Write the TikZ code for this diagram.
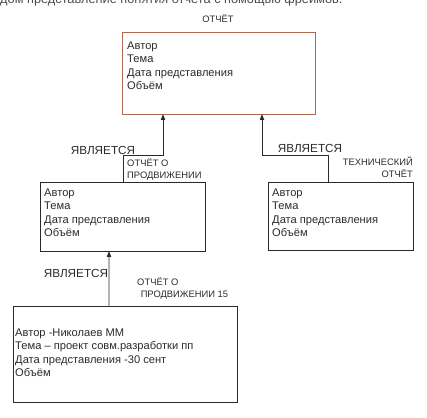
\documentclass[tikz,border=0pt]{standalone}
\usepackage{fontspec}
\setmainfont{Liberation Sans}
\usetikzlibrary{arrows.meta, calc}

\definecolor{framered}{HTML}{B0684E}
\definecolor{inkgrey}{HTML}{2A2A2A}

\begin{document}
\begin{tikzpicture}[x=0.03cm, y=-0.03cm, >={Triangle[length=5pt, width=3.6pt]},
  box/.style={draw=inkgrey, line width=0.8pt, inner sep=0pt, outer sep=0pt},
  slots/.style={anchor=base west, align=left, inner sep=0pt, text=inkgrey,
    font=\fontsize{9.5pt}{11.5pt}\selectfont},
  isa/.style={->, draw=inkgrey, line width=0.8pt},
  rel/.style={inner sep=0pt, text=inkgrey, font=\fontsize{10pt}{12pt}\selectfont},
  title/.style={inner sep=0pt, text=inkgrey, font=\fontsize{8pt}{10pt}\selectfont}]
  \useasboundingbox (0,0) rectangle (427,417);
  \clip (0,0) rectangle (427,417);

  % cut-off caption line
  \node[anchor=base west, inner sep=0pt, text=black!70, font=\fontsize{10.9pt}{12pt}\selectfont]
    (caption) at (0,3) {дом представление понятия отчета с помощью фреймов.};

  % frames
  \node[box, draw=framered, minimum width=5.79cm, minimum height=2.46cm] (otchet) at (218.5,73) {};
  \node[box, minimum width=4.95cm, minimum height=2.07cm] (prodv) at (122.5,216.5) {};
  \node[box, minimum width=4.35cm, minimum height=2.04cm] (tech) at (340.5,216) {};
  \node[box, minimum width=6.72cm, minimum height=2.88cm] (prodv15) at (125,354) {};

  % slot lists (anchored at the baseline of the last line)
  \node[slots] (otchetSlots) at (127,89.5) {Автор\\Тема\\Дата представления\\Объём};
  \node[slots] (prodvSlots) at (44,236.5) {Автор\\Тема\\Дата представления\\Объём};
  \node[slots] (techSlots) at (272,236.5) {Автор\\Тема\\Дата представления\\Объём};
  \node[slots] (prodv15Slots) at (15,376.5)
    {Автор -Николаев ММ\\Тема -- проект совм.разработки пп\\Дата представления -30 сент\\Объём};

  % frame names
  \node[title] (otchetName) at (218,19) {ОТЧЁТ};
  \node[title, anchor=base west, align=left] (prodvName) at (127,178) {ОТЧЁТ О\\ПРОДВИЖЕНИИ};
  \node[title, anchor=base east, align=right] (techName) at (413,177) {ТЕХНИЧЕСКИЙ\\ОТЧЁТ};
  \node[title, anchor=base west, align=left] (prodv15Name) at (137,297)
    {ОТЧЁТ О\\\hspace{3pt}ПРОДВИЖЕНИИ 15};

  % is-a links
  \draw[isa] ($(prodv.north west)+(83,0)$) -- ++(0,-27) -| ($(otchet.south west)+(41,0)$);
  \draw[isa] ($(tech.north west)+(60,0)$) -- ++(0,-27) -| ($(otchet.south west)+(140,0)$);
  \draw[isa] ($(prodv15.north west)+(96,0)$) -- ($(prodv.south west)+(69,0)$);

  \node[rel] (isaLeft) at (103,150) {ЯВЛЯЕТСЯ};
  \node[rel] (isaRight) at (310,148) {ЯВЛЯЕТСЯ};
  \node[rel] (isaLow) at (76,273) {ЯВЛЯЕТСЯ};
\end{tikzpicture}
\end{document}
